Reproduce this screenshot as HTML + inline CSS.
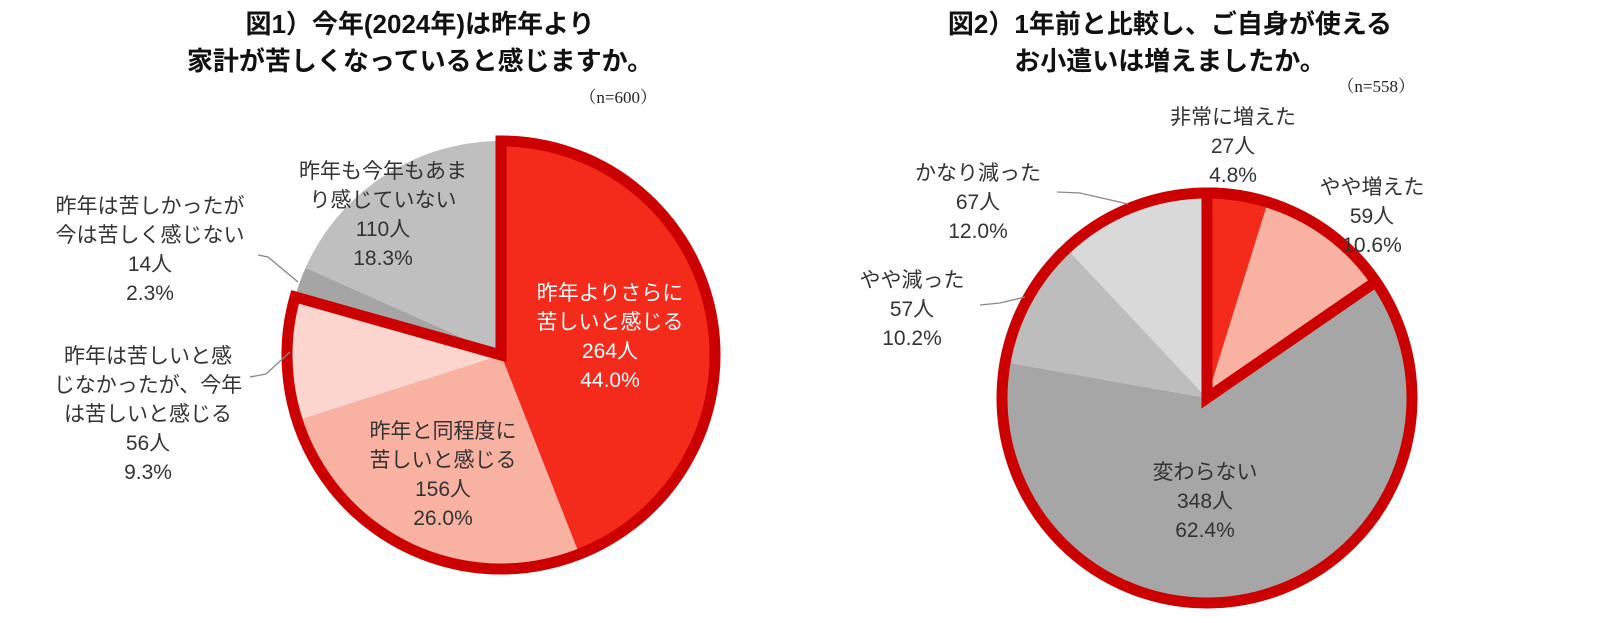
<!DOCTYPE html>
<html><head><meta charset="utf-8">
<style>
html,body{margin:0;padding:0;background:#fff;}
svg{display:block;}
text{font-family:"Liberation Sans","Noto Sans CJK JP",sans-serif;}
</style></head>
<body>
<svg id="chart" width="1600" height="623" viewBox="0 0 1600 623" xmlns="http://www.w3.org/2000/svg">
  <g font-weight="bold" font-size="26" fill="#111" text-anchor="middle">
    <text x="420" y="33">図1）今年(2024年)は昨年より</text>
    <text x="420" y="70">家計が苦しくなっていると感じますか。</text>
  </g>
  <text x="657" y="103" font-size="17" text-anchor="end" fill="#222" style="font-family:'Liberation Serif','Noto Serif CJK SC',serif">（n=600）</text>
  <g font-weight="bold" font-size="26" fill="#111" text-anchor="middle">
    <text x="1170" y="33">図2）1年前と比較し、ご自身が使える</text>
    <text x="1170" y="70">お小遣いは増えましたか。</text>
  </g>
  <text x="1415" y="92" font-size="17" text-anchor="end" fill="#222" style="font-family:'Liberation Serif','Noto Serif CJK SC',serif">（n=558）</text>
  <g id="pie1"></g>
  <g id="pie2"></g>
  <g id="labels"></g>
</svg>
<script>
// Chart 1 data
const cats1 = ["昨年よりさらに苦しいと感じる","昨年と同程度に苦しいと感じる","昨年は苦しいと感じなかったが、今年は苦しいと感じる","昨年は苦しかったが今は苦しく感じない","昨年も今年もあまり感じていない"];
const counts1 = [264,156,56,14,110];
const pcts1 = [44.0,26.0,9.3,2.3,18.3];
const colors1 = ["#f42a1a","#f9b1a1","#fdd5cf","#a5a5a5","#bfbfbf"];
const outlineGroup1 = [0,1,2];
// Chart 2 data
const cats2 = ["非常に増えた","やや増えた","変わらない","やや減った","かなり減った"];
const counts2 = [27,59,348,57,67];
const pcts2 = [4.8,10.6,62.4,10.2,12.0];
const colors2 = ["#f42a1a","#f9b1a1","#a6a6a6","#bdbdbd","#d9d9d9"];
const outlineGroup2 = [0,1];

const NS="http://www.w3.org/2000/svg";
function pt(cx,cy,r,frac){const a=frac*2*Math.PI;return [cx+r*Math.sin(a),cy-r*Math.cos(a)];}
function wedge(cx,cy,r,f0,f1){
  const p0=pt(cx,cy,r,f0),p1=pt(cx,cy,r,f1);const large=(f1-f0)>0.5?1:0;
  return `M${cx},${cy} L${p0[0]},${p0[1]} A${r},${r} 0 ${large} 1 ${p1[0]},${p1[1]} Z`;
}
function drawPie(g,cx,cy,r,vals,colors,cats,group,fullCircle){
  const total=vals.reduce((a,b)=>a+b,0);let acc=0;const fr=[];
  vals.forEach((v,i)=>{const f0=acc/total;acc+=v;const f1=acc/total;fr.push([f0,f1]);
    const p=document.createElementNS(NS,"path");
    p.setAttribute("d",wedge(cx,cy,r,f0,f1));p.setAttribute("fill",colors[i]);
    
    
    g.appendChild(p);});
  if(fullCircle){const c=document.createElementNS(NS,"circle");
    c.setAttribute("cx",cx);c.setAttribute("cy",cy);c.setAttribute("r",r);
    c.setAttribute("fill","none");c.setAttribute("stroke","#cc0000");c.setAttribute("stroke-width","11");
    
    
    g.appendChild(c);}
  const f0=fr[group[0]][0],f1=fr[group[group.length-1]][1];
  const o=document.createElementNS(NS,"path");
  o.setAttribute("d",wedge(cx,cy,r,f0,f1));o.setAttribute("fill","none");
  o.setAttribute("stroke","#cc0000");o.setAttribute("stroke-width","11");o.setAttribute("stroke-linejoin","miter");
  
  
  g.appendChild(o);
}
drawPie(document.getElementById("pie1"),501,355,214,pcts1,colors1,cats1,outlineGroup1,false);
drawPie(document.getElementById("pie2"),1207,398,205,pcts2,colors2,cats2,outlineGroup2,true);

const L=document.getElementById("labels");
function label(x,y,lines,color,name){
  const t=document.createElementNS(NS,"text");
  t.setAttribute("x",x);t.setAttribute("text-anchor","middle");t.setAttribute("font-size","21");t.setAttribute("fill",color);
  
  
  lines.forEach((s,i)=>{const ts=document.createElementNS(NS,"tspan");ts.setAttribute("x",x);ts.setAttribute("y",y+i*29);ts.textContent=s;t.appendChild(ts);});
  L.appendChild(t);
}
function leader(pts,name){
  const p=document.createElementNS(NS,"polyline");
  p.setAttribute("points",pts);p.setAttribute("fill","none");p.setAttribute("stroke","#888");p.setAttribute("stroke-width","1.3");
  
  
  L.appendChild(p);
}
const dark="#333";
label(610,300,["昨年よりさらに","苦しいと感じる",counts1[0]+"人",pcts1[0].toFixed(1)+"%"],"#fff","label-slice1-1");
label(443,438,["昨年と同程度に","苦しいと感じる",counts1[1]+"人",pcts1[1].toFixed(1)+"%"],dark,"label-slice1-2");
label(148,363,["昨年は苦しいと感","じなかったが、今年","は苦しいと感じる",counts1[2]+"人",pcts1[2].toFixed(1)+"%"],dark,"label-slice1-3");
label(150,213,["昨年は苦しかったが","今は苦しく感じない",counts1[3]+"人",pcts1[3].toFixed(1)+"%"],dark,"label-slice1-4");
label(383,178,["昨年も今年もあま","り感じていない",counts1[4]+"人",pcts1[4].toFixed(1)+"%"],dark,"label-slice1-5");
leader("258,255 268,257 298,282","leader-slice1-4");
leader("250,377 266,374 290,352","leader-slice1-3");

label(1233,124,["非常に増えた",counts2[0]+"人",pcts2[0].toFixed(1)+"%"],dark,"label-slice2-1");
label(1372,194,["やや増えた",counts2[1]+"人",pcts2[1].toFixed(1)+"%"],dark,"label-slice2-2");
label(1205,479,["変わらない",counts2[2]+"人",pcts2[2].toFixed(1)+"%"],dark,"label-slice2-3");
label(912,287,["やや減った",counts2[3]+"人",pcts2[3].toFixed(1)+"%"],dark,"label-slice2-4");
label(978,180,["かなり減った",counts2[4]+"人",pcts2[4].toFixed(1)+"%"],dark,"label-slice2-5");
leader("1057,192 1080,193 1128,204","leader-slice2-5");
leader("980,305 1000,303 1025,297","leader-slice2-4");
</script>
</body></html>
